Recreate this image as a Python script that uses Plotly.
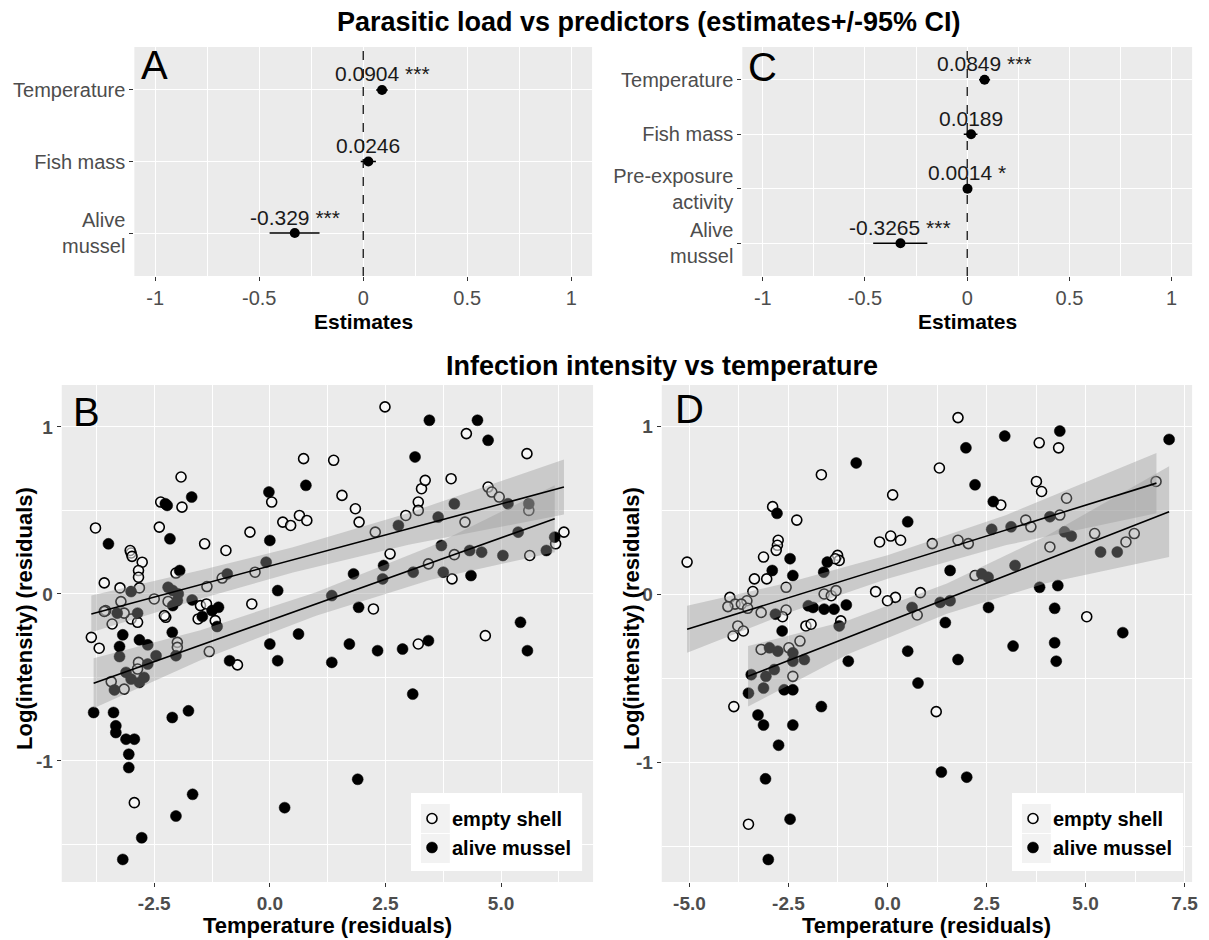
import plotly.graph_objects as go
import numpy as np

W, H = 1209, 940
OX, OY = 8, 8          # page body margin of the browser
FONT = "Liberation Sans, Arial, sans-serif"

# ---------------- Panel A data ----------------
a_terms = ["Temperature", "Fish mass", "Alive<br>mussel"]
a_est = [0.0904, 0.0246, -0.329]
a_lo = [0.062, -0.012, -0.45]
a_hi = [0.118, 0.061, -0.21]
a_lab = ["0.0904 ***", "0.0246", "-0.329 ***"]

# ---------------- Panel C data ----------------
c_terms = ["Temperature", "Fish mass", "Pre-exposure<br>activity", "Alive<br>mussel"]
c_est = [0.0849, 0.0189, 0.0014, -0.3265]
c_lo = [0.058, -0.017, -0.002, -0.46]
c_hi = [0.112, 0.05, 0.005, -0.195]
c_lab = ["0.0849 ***", "0.0189", "0.0014 *", "-0.3265 ***"]

forest_ticks = [-1, -0.5, 0, 0.5, 1]
forest_ticktext = ["-1", "-0.5", "0", "0.5", "1"]

# ---------------- Panel B data ----------------
b_empty_x = [-3.77, -3.0, -3.02, -2.98, -2.76, -2.84, -2.84, -3.58, -3.24, -2.82,
             -2.39, -2.36, -1.92, -1.90, -1.41, -0.95, -0.43, 0.04, 0.28, 0.45,
             0.64, 0.80, 0.73, 1.38, -0.32, -1.36, -2.03, -1.03, -0.39, -3.22,
             -1.5, -1.37, -3.55, 2.49, 1.56, 1.85, 1.93, 2.28, 2.60, 2.94,
             3.21, 3.21, 3.28, 3.36, 3.92, 4.22, 4.25, 5.56, 4.72, 4.80,
             4.96, 5.60, 3.43, 3.99, 3.94, 5.62, 6.18, 6.36, 2.24, 3.21,
             4.66, -3.86, -3.69, -3.43, -3.15, -2.84, -2.86, -2.93, -1.31, -0.70,
             -2.0, -2.0, -2.25, -2.28, -1.55, -1.18, -3.41, -3.0, -2.86, -3.58,
             -3.15, -2.5, -2.2]
b_empty_y = [0.395, 0.245, 0.26, 0.225, 0.19, 0.14, 0.10, 0.066, 0.036, 0.036,
             0.40, 0.55, 0.70, 0.52, 0.30, 0.26, 0.37, 0.55, 0.43, 0.41,
             0.47, 0.44, 0.81, 0.80, 0.13, 0.044, 0.125, 0.095, -0.06, -0.046,
             -0.07, -0.06, -0.10, 1.12, 0.59, 0.51, 0.43, 0.37, 0.24, 0.47,
             0.55, 0.50, 0.63, 0.68, 0.69, 0.43, 0.96, 0.84, 0.64, 0.61,
             0.58, 0.50, 0.18, 0.235, 0.09, 0.23, 0.30, 0.37, -0.09, -0.30,
             -0.25, -0.26, -0.325, -0.525, -0.57, -0.41, -0.45, -1.25, -0.345, -0.425,
             -0.29, -0.32, -0.14, -0.13, -0.15, -0.16, -0.18, -0.15, -0.17, -0.105,
             -0.115, -0.03, -0.045]

b_alive_x = [-3.49, -3.0, -2.26, -2.22, -1.69, -2.16, -1.95, -2.2, -2.1, -1.98,
             -2.1, -1.68, -1.25, -0.92, -0.02, 0.0, -0.08, 0.17, 0.78, 1.34,
             3.45, 4.49, 4.72, 3.14, 3.99, 5.15, 5.60, 3.64, 2.78, 3.71,
             4.32, 4.58, 5.04, 5.37, 5.98, 6.16, 2.46, 2.44, 1.81, 3.10,
             3.75, 4.35, 1.92, 1.34, 1.72, 2.33, 2.87, 3.43, 3.09, 1.90,
             5.42, 5.57, -3.81, -3.38, -3.33, -3.33, -3.11, -2.93, -3.05, -3.05,
             -1.67, -2.03, -2.77, -3.18, -2.11, -1.76, 0.32, 0.0, 0.17, 0.62,
             -0.87, -2.11, -2.03, -2.46, -2.64, -2.82, -2.72, -3.0, -3.11, -3.36,
             -3.25, -3.25, -3.18, -2.82, -2.64, -2.86, -3.3, -1.46, -1.14, -1.11,
             -2.0]
b_alive_y = [0.30, 0.014, 0.54, 0.53, 0.58, 0.33, 0.14, 0.04, 0.02, 0.0,
             -0.07, -0.036, -0.10, 0.12, 0.61, 0.32, 0.19, 0.02, 0.65, -0.01,
             1.04, 1.04, 0.92, 0.82, 0.54, 0.54, 0.54, 0.46, 0.41, 0.29,
             0.26, 0.25, 0.23, 0.37, 0.26, 0.34, 0.17, 0.09, 0.12, 0.13,
             0.13, 0.11, -0.08, -0.41, -0.30, -0.34, -0.33, -0.28, -0.60, -1.11,
             -0.17, -0.34, -0.71, -0.71, -0.79, -0.83, -0.87, -0.87, -0.96, -1.04,
             -1.20, -1.33, -1.46, -1.59, -0.74, -0.70, -1.28, -0.30, -0.40, -0.24,
             -0.40, -0.23, -0.37, -0.37, -0.42, -0.53, -0.50, -0.51, -0.47, -0.575,
             -0.375, -0.315, -0.245, -0.275, -0.305, -0.115, -0.115, -0.135, -0.195, -0.08,
             -0.04]

# fitted lines + 95% bands
b_fit_empty_x = [-3.86, -1.5, 0.5, 3.0, 6.36]
b_fit_empty_y = [-0.12, 0.056, 0.204, 0.390, 0.64]
b_fit_empty_hw = [0.11, 0.085, 0.075, 0.095, 0.165]
b_fit_alive_x = [-3.81, -1.5, 1.0, 3.5, 6.16]
b_fit_alive_y = [-0.535, -0.307, -0.060, 0.187, 0.45]
b_fit_alive_hw = [0.15, 0.09, 0.07, 0.10, 0.20]

# ---------------- Panel D data ----------------
d_empty_x = [-5.06, -1.67, -2.90, -2.29, -2.76, -2.78, -2.81, -3.13, -3.36, -3.05,
             -2.56, -1.26, -1.22, -1.32, 0.13, -0.2, 0.08, 0.33, 1.13, -3.98,
             -3.4, -3.55, -3.85, -1.6, -1.42, -1.3, -0.30, 0.2, 0.83, 1.78,
             1.31, 3.83, 4.32, 3.76, 3.89, 4.52, 2.86, 1.78, 2.04, 3.49,
             3.62, 4.35, 5.23, 4.10, 6.02, 6.23, 6.78, 2.21, 5.03, 1.23,
             -4.03, -3.69, -3.53, -3.78, -3.64, -3.90, -3.19, -2.56, -2.65, -2.06,
             -1.93, -1.18, -3.19, -2.49, -2.21, -2.39, -3.88, -3.51, 0.75, 0.0]
d_empty_y = [0.19, 0.71, 0.52, 0.44, 0.32, 0.29, 0.26, 0.22, 0.09, 0.09,
             0.04, 0.23, 0.20, 0.21, 0.59, 0.31, 0.345, 0.32, 0.30, -0.02,
             0.015, -0.04, -0.06, 0.0, -0.01, 0.02, 0.014, -0.02, 0.008, 1.05,
             0.75, 0.90, 0.87, 0.67, 0.61, 0.57, 0.53, 0.32, 0.30, 0.44,
             0.40, 0.47, 0.36, 0.28, 0.31, 0.36, 0.67, 0.11, -0.135, -0.70,
             -0.075, -0.06, -0.085, -0.19, -0.22, -0.25, -0.11, -0.095, -0.135, -0.19,
             -0.18, -0.16, -0.33, -0.32, -0.28, -0.49, -0.67, -1.37, -0.125, -0.04]

d_alive_x = [-0.79, -2.79, 0.51, -2.46, -2.91, -2.39, -1.52, -1.61, -2.0, -1.6,
             -1.35, 0.62, 2.96, 4.35, 1.98, 7.11, 2.21, 2.67, 2.63, 3.12,
             4.10, 4.47, 4.64, 5.38, 5.80, 1.58, 2.38, 2.54, 3.22, 3.84,
             4.30, 1.33, 1.58, 2.55, 4.22, 1.46, 1.78, 3.17, 4.22, 4.26,
             5.94, 1.36, 2.0, -1.88, -1.04, -2.83, -2.66, -1.22, -0.99, 0.51,
             0.77, -2.98, -2.77, -2.39, -2.10, -2.39, -3.44, -3.07, -2.86, -3.51,
             -3.13, -2.61, -2.39, -1.67, -3.27, -3.13, -2.39, -2.75, -3.08, -2.46,
             -3.01]
d_alive_y = [0.78, 0.48, 0.43, 0.21, 0.14, 0.11, 0.19, 0.13, -0.07, -0.09,
             -0.09, -0.08, 0.94, 0.97, 0.87, 0.92, 0.65, 0.55, 0.385, 0.40,
             0.46, 0.37, 0.345, 0.25, 0.25, 0.14, 0.12, 0.10, 0.17, 0.04,
             0.05, -0.05, -0.04, -0.08, -0.085, -0.17, -0.39, -0.31, -0.29, -0.40,
             -0.23, -1.06, -1.09, -0.08, -0.065, -0.12, -0.22, -0.19, -0.40, -0.34,
             -0.53, -0.32, -0.34, -0.35, -0.39, -0.40, -0.48, -0.49, -0.45, -0.59,
             -0.56, -0.57, -0.57, -0.67, -0.72, -0.78, -0.78, -0.90, -1.10, -1.34,
             -1.58]

d_fit_empty_x = [-5.06, -2.5, 0.0, 3.0, 6.79]
d_fit_empty_y = [-0.21, -0.022, 0.161, 0.381, 0.66]
d_fit_empty_hw = [0.14, 0.09, 0.07, 0.09, 0.18]
d_fit_alive_x = [-3.52, -1.0, 1.5, 4.0, 7.11]
d_fit_alive_y = [-0.49, -0.258, -0.027, 0.204, 0.49]
d_fit_alive_hw = [0.18, 0.10, 0.09, 0.14, 0.27]

b_xticks = [-2.5, 0.0, 2.5, 5.0]
b_xticktext = ["-2.5", "0.0", "2.5", "5.0"]
d_xticks = [-5.0, -2.5, 0.0, 2.5, 5.0, 7.5]
d_xticktext = ["-5.0", "-2.5", "0.0", "2.5", "5.0", "7.5"]
res_yticks = [-1, 0, 1]
res_yticktext = ["-1", "0", "1"]

series_names = ["<b>empty shell</b>", "<b>alive mussel</b>"]

# ---------------- helpers ----------------
def px_x(p):
    return (p - OX) / W

def px_y(p):
    return 1 - (p - OY) / H

PANEL_BG = "#EBEBEB"
TICK_COL = "#4D4D4D"

fig = go.Figure()

# ---- forest plots ----
def forest(terms, est, lo, hi, labels, xa, ya):
    pos = list(range(len(terms), 0, -1))
    fig.add_trace(go.Scatter(
        x=est, y=pos, mode="markers",
        marker=dict(color="black", size=10),
        error_x=dict(type="data", symmetric=False,
                     array=[h - e for h, e in zip(hi, est)],
                     arrayminus=[e - l for e, l in zip(est, lo)],
                     color="black", thickness=1.5, width=0),
        xaxis=xa, yaxis=ya, showlegend=False, hoverinfo="skip"))
    for e, p, t in zip(est, pos, labels):
        fig.add_annotation(x=e, y=p, xref=xa, yref=ya, text=t, showarrow=False,
                           yshift=16, font=dict(size=21, color="#1A1A1A", family=FONT))
    return pos

a_pos = forest(a_terms, a_est, a_lo, a_hi, a_lab, "x", "y")
c_pos = forest(c_terms, c_est, c_lo, c_hi, c_lab, "x2", "y2")

# ---- residual scatter panels ----
def band(xs, ys, hw, xa, ya):
    xs = np.array(xs); ys = np.array(ys); hw = np.array(hw)
    up = ys + hw; lo = ys - hw
    fig.add_trace(go.Scatter(
        x=np.concatenate([xs, xs[::-1]]), y=np.concatenate([up, lo[::-1]]),
        fill="toself", fillcolor="rgba(153,153,153,0.4)", line=dict(width=0),
        mode="lines", xaxis=xa, yaxis=ya, showlegend=False, hoverinfo="skip"))

def line(xs, ys, xa, ya):
    fig.add_trace(go.Scatter(x=[xs[0], xs[-1]], y=[ys[0], ys[-1]], mode="lines",
                             line=dict(color="black", width=1.6),
                             xaxis=xa, yaxis=ya, showlegend=False, hoverinfo="skip"))

def scatter_panel(ex, ey, ax_, ay_, fits, xa, ya, legend):
    fig.add_trace(go.Scatter(
        x=ex, y=ey, mode="markers", name=series_names[0],
        marker=dict(symbol="circle", size=10, color="rgba(255,255,255,0.55)",
                    line=dict(color="black", width=1.6)),
        xaxis=xa, yaxis=ya, legend=legend, showlegend=True))
    fig.add_trace(go.Scatter(
        x=ax_, y=ay_, mode="markers", name=series_names[1],
        marker=dict(symbol="circle", size=11, color="black",
                    line=dict(color="black", width=0.5)),
        xaxis=xa, yaxis=ya, legend=legend, showlegend=True))
    for fx, fy, fh in fits:
        band(fx, fy, fh, xa, ya)
    for fx, fy, fh in fits:
        line(fx, fy, xa, ya)

scatter_panel(b_empty_x, b_empty_y, b_alive_x, b_alive_y,
              [(b_fit_empty_x, b_fit_empty_y, b_fit_empty_hw),
               (b_fit_alive_x, b_fit_alive_y, b_fit_alive_hw)], "x3", "y3", "legend")
scatter_panel(d_empty_x, d_empty_y, d_alive_x, d_alive_y,
              [(d_fit_empty_x, d_fit_empty_y, d_fit_empty_hw),
               (d_fit_alive_x, d_fit_alive_y, d_fit_alive_hw)], "x4", "y4", "legend2")

# ---------------- axes ----------------
def ax_common(bold=False, **kw):
    d = dict(showgrid=True, gridcolor="white", gridwidth=1.3, zeroline=False,
             showline=False, ticks="outside", ticklen=4, tickcolor="#333333",
             tickwidth=1,
             tickfont=dict(size=19 if bold else 20, color=TICK_COL, family=FONT,
                           weight="bold" if bold else "normal"))
    d.update(kw)
    return d

minor_forest = dict(dtick=0.25, tick0=0, showgrid=True, gridcolor="white",
                    gridwidth=0.6, ticks="")
minor_x = dict(dtick=1.25, tick0=0, showgrid=True, gridcolor="white",
               gridwidth=0.6, ticks="")
minor_y = dict(dtick=0.5, tick0=0, showgrid=True, gridcolor="white",
               gridwidth=0.6, ticks="")

layout = dict(
    width=W, height=H, margin=dict(l=0, r=0, t=0, b=0),
    paper_bgcolor="white", plot_bgcolor=PANEL_BG, font=dict(family=FONT),
    xaxis=ax_common(domain=[px_x(135), px_x(595)], range=[-1.1, 1.1],
                    tickvals=forest_ticks, ticktext=forest_ticktext,
                    minor=minor_forest, anchor="y"),
    yaxis=ax_common(domain=[px_y(276), px_y(47)], range=[0.4, len(a_terms) + 0.6],
                    tickvals=a_pos, ticktext=a_terms, anchor="x"),
    xaxis2=ax_common(domain=[px_x(746), px_x(1198)], range=[-1.1, 1.1],
                     tickvals=forest_ticks, ticktext=forest_ticktext,
                     minor=minor_forest, anchor="y2"),
    yaxis2=ax_common(domain=[px_y(276), px_y(47)], range=[0.4, len(c_terms) + 0.6],
                     tickvals=c_pos, ticktext=c_terms, anchor="x2"),
    xaxis3=ax_common(bold=True, domain=[px_x(62), px_x(596)], range=[-4.5, 6.99],
                     tickvals=b_xticks, ticktext=b_xticktext, minor=minor_x, anchor="y3"),
    yaxis3=ax_common(bold=True, domain=[px_y(882), px_y(385)], range=[-1.725, 1.251],
                     tickvals=res_yticks, ticktext=res_yticktext, minor=minor_y, anchor="x3"),
    xaxis4=ax_common(bold=True, domain=[px_x(665), px_x(1198)], range=[-5.70, 7.69],
                     tickvals=d_xticks, ticktext=d_xticktext, minor=minor_x, anchor="y4"),
    yaxis4=ax_common(bold=True, domain=[px_y(882), px_y(385)], range=[-1.714, 1.244],
                     tickvals=res_yticks, ticktext=res_yticktext, minor=minor_y, anchor="x4"),
    legend=dict(x=px_x(414), y=px_y(799), xanchor="left", yanchor="top",
                bgcolor="rgba(0,0,0,0)", font=dict(size=20, color="black", family=FONT),
                tracegroupgap=0),
    legend2=dict(x=px_x(1018), y=px_y(799), xanchor="left", yanchor="top",
                 bgcolor="rgba(0,0,0,0)", font=dict(size=20, color="black", family=FONT),
                 tracegroupgap=0),
    showlegend=True,
)
fig.update_layout(**layout)

# dashed zero lines in forest panels
for xa, ya in [("x", "y"), ("x2", "y2")]:
    fig.add_shape(type="line", x0=0, x1=0, y0=0, y1=1, xref=xa, yref=ya + " domain",
                  line=dict(color="black", width=1.2, dash="dash"), layer="above")

# legend boxes (white panel with grey key squares)
for lx in (413, 1017):
    fig.add_shape(type="rect", xref="paper", yref="paper",
                  x0=px_x(lx), x1=px_x(lx + 172), y0=px_y(871), y1=px_y(793),
                  fillcolor="white", line=dict(width=0), layer="above")
    for ky in (804, 834):
        fig.add_shape(type="rect", xref="paper", yref="paper",
                      x0=px_x(lx + 10), x1=px_x(lx + 39), y0=px_y(ky + 29), y1=px_y(ky),
                      fillcolor="#F2F2F2", line=dict(width=0), layer="above")

# titles / labels
def ann(text, x, y, size, bold=False, angle=0, color="black"):
    t = f"<b>{text}</b>" if bold else text
    fig.add_annotation(text=t, x=px_x(x), y=px_y(y), xref="paper", yref="paper",
                       showarrow=False, xanchor="center", yanchor="middle",
                       textangle=angle, font=dict(size=size, color=color, family=FONT))

ann("Parasitic load vs predictors (estimates+/-95% CI)", 652, 22, 27, bold=True)
ann("Infection intensity vs temperature", 665, 366, 27, bold=True)
ann("Estimates", 365, 321, 21, bold=True)
ann("Estimates", 972, 321, 21, bold=True)
ann("Temperature (residuals)", 329, 925, 22, bold=True)
ann("Temperature (residuals)", 931, 925, 22, bold=True)
ann("Log(intensity) (residuals)", 24, 618, 22, bold=True, angle=-90)
ann("Log(intensity) (residuals)", 634, 618, 22, bold=True, angle=-90)
ann("A", 155, 65, 40)
ann("C", 766, 67, 40)
ann("B", 87, 412, 40)
ann("D", 693, 409, 40)

fig.write_html("out.html")
